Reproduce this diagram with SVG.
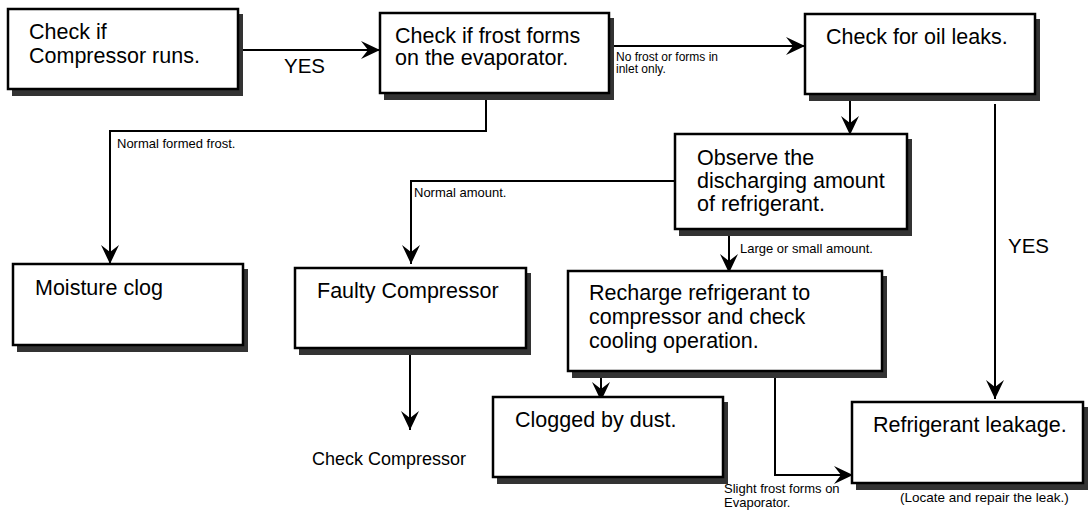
<svg xmlns="http://www.w3.org/2000/svg" width="1089" height="512" viewBox="0 0 1089 512">
<style>
  .box { fill: #ffffff; stroke: #000000; stroke-width: 2.5; }
  .shadow { fill: #333333; }
  .t { font-family: "Liberation Sans", Arial, sans-serif; font-size: 21.5px; fill: #000000; }
  .s { font-family: "Liberation Sans", Arial, sans-serif; font-size: 13px; fill: #000000; }
  .c { fill: none; stroke: #000000; stroke-width: 2; }
</style>
<defs>
  <marker id="arr" markerUnits="userSpaceOnUse" markerWidth="22" markerHeight="20" refX="19" refY="9" orient="auto">
    <path d="M0,0 L19,9 L0,18 L7,9 Z" fill="#000000"/>
  </marker>
</defs>
<rect x="0" y="0" width="1089" height="512" fill="#ffffff"/>

<g id="connectors">
  <path class="c" d="M238,50 H380" marker-end="url(#arr)"/>
  <path class="c" d="M609,46 H805" marker-end="url(#arr)"/>
  <path class="c" d="M486,97 V131 H110 V264" marker-end="url(#arr)"/>
  <path class="c" d="M850,97 V135" marker-end="url(#arr)"/>
  <path class="c" d="M995,104 V399" marker-end="url(#arr)"/>
  <path class="c" d="M675,181 H411 V264" marker-end="url(#arr)"/>
  <path class="c" d="M729,232 V273" marker-end="url(#arr)"/>
  <path class="c" d="M410,352 V430" marker-end="url(#arr)"/>
  <path class="c" d="M601,374 V401" marker-end="url(#arr)"/>
  <path class="c" d="M775,374 V475 H853" marker-end="url(#arr)"/>
  <text class="t" x="284" y="73" style="font-size:20.5px">YES</text>
  <text class="s" x="616" y="61" style="font-size:12px">No frost or forms in</text>
  <text class="s" x="616" y="73" style="font-size:12px">inlet only.</text>
  <text class="s" x="117" y="148">Normal formed frost.</text>
  <text class="s" x="414" y="197">Normal amount.</text>
  <text class="s" x="740" y="253">Large or small amount.</text>
  <text class="t" x="1008" y="253" style="font-size:20.5px">YES</text>
  <text class="s" x="724" y="493">Slight frost forms on</text>
  <text class="s" x="724" y="507">Evaporator.</text>
</g>

<g id="n1">
  <rect class="shadow" x="12" y="14" width="231" height="82"/>
  <rect class="box" x="8" y="9" width="230" height="80"/>
  <text class="t" x="29" y="39">Check if</text>
  <text class="t" x="29" y="63">Compressor runs.</text>
</g>

<g id="n2">
  <rect class="shadow" x="384" y="18" width="230" height="82"/>
  <rect class="box" x="380" y="13" width="229" height="80"/>
  <text class="t" x="395" y="43">Check if frost forms</text>
  <text class="t" x="395" y="65">on the evaporator.</text>
</g>

<g id="n3">
  <rect class="shadow" x="809" y="19" width="231" height="82"/>
  <rect class="box" x="805" y="14" width="230" height="80"/>
  <text class="t" x="826" y="44">Check for oil leaks.</text>
</g>

<g id="n4">
  <rect class="shadow" x="679" y="139" width="233" height="97"/>
  <rect class="box" x="675" y="134" width="232" height="95"/>
  <text class="t" x="697" y="165">Observe the</text>
  <text class="t" x="697" y="188">discharging amount</text>
  <text class="t" x="697" y="211">of refrigerant.</text>
</g>

<g id="n5">
  <rect class="shadow" x="17" y="269" width="231" height="83"/>
  <rect class="box" x="13" y="264" width="230" height="81"/>
  <text class="t" x="35" y="295">Moisture clog</text>
</g>

<g id="n6">
  <rect class="shadow" x="299" y="273" width="232" height="82"/>
  <rect class="box" x="295" y="268" width="231" height="80"/>
  <text class="t" x="317" y="298">Faulty Compressor</text>
</g>

<g id="n7">
  <rect class="shadow" x="572" y="276" width="315" height="102"/>
  <rect class="box" x="568" y="271" width="314" height="100"/>
  <text class="t" x="589" y="300">Recharge refrigerant to</text>
  <text class="t" x="589" y="324">compressor and check</text>
  <text class="t" x="589" y="348">cooling operation.</text>
</g>

<g id="n8">
  <rect class="shadow" x="497" y="402" width="231" height="82"/>
  <rect class="box" x="493" y="397" width="230" height="80"/>
  <text class="t" x="515" y="427">Clogged by dust.</text>
</g>

<g id="n9">
  <rect class="shadow" x="856" y="407" width="232" height="83"/>
  <rect class="box" x="852" y="402" width="231" height="81"/>
  <text class="t" x="873" y="432">Refrigerant leakage.</text>
</g>

<g id="labels">
  <text class="t" x="312" y="465" style="font-size:18px">Check Compressor</text>
  <text class="s" x="900" y="502" style="font-size:13.5px">(Locate and repair the leak.)</text>
</g>
</svg>
